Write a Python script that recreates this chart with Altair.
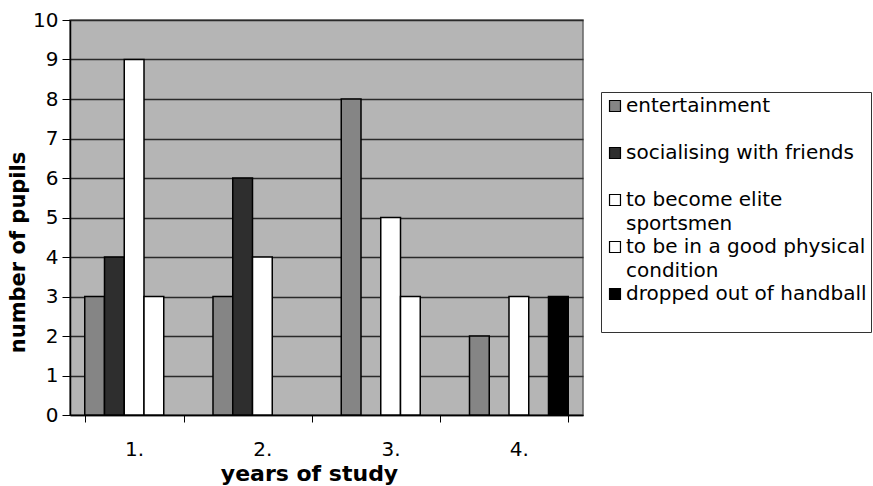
import altair as alt
import pandas as pd

# Survey of handball pupils: reasons for playing, by year of study
years = ["1.", "2.", "3.", "4."]
series = [
    "entertainment",
    "socialising with friends",
    "to become elite sportsmen",
    "to be in a good physical condition",
    "dropped out of handball",
]
entertainment = [3, 3, 8, 2]
socialising = [4, 6, 0, 0]
elite = [9, 4, 5, 3]
physical = [3, 0, 3, 0]
dropped = [0, 0, 0, 3]

colors = ["#858585", "#2e2e2e", "#ffffff", "#ffffff", "#000000"]

rows = []
for name, vals in zip(series, [entertainment, socialising, elite, physical, dropped]):
    for yr, v in zip(years, vals):
        rows.append({"year": yr, "reason": name, "pupils": v})
df = pd.DataFrame(rows)

FONT = "DejaVu Sans"

# long legend entries are wrapped onto two lines; the last one keeps a blank
# second line so the box leaves room below it
wrap_expr = (
    "datum.label == 'to become elite sportsmen' ? ['to become elite', 'sportsmen'] : "
    "datum.label == 'to be in a good physical condition' ? ['to be in a good physical', 'condition'] : "
    "datum.label == 'dropped out of handball' ? ['dropped out of handball', ' '] : "
    "datum.label"
)

bars = alt.Chart(df).transform_filter("datum.pupils > 0").mark_bar(
    stroke="#000000", strokeWidth=1.5
).encode(
    x=alt.X(
        "year:N",
        sort=years,
        scale=alt.Scale(domain=years, paddingInner=0.23, paddingOuter=0.115),
        axis=alt.Axis(
            title="years of study",
            labelAngle=0,
            labelFont=FONT,
            labelFontSize=20,
            labelColor="#000000",
            labelPadding=17,
            tickBand="extent",
            tickSize=7,
            tickColor="#000000",
            domainColor="#000000",
            domainWidth=1.5,
            titleFont=FONT,
            titleFontSize=22,
            titleFontWeight="bold",
            titleColor="#000000",
            titleX=239,
            titleY=65,
            titleBaseline="alphabetic",
        ),
    ),
    xOffset=alt.XOffset("reason:N", sort=series, scale=alt.Scale(domain=series)),
    y=alt.Y(
        "pupils:Q",
        scale=alt.Scale(domain=[0, 10], nice=False),
        axis=alt.Axis(
            title="number of pupils",
            values=list(range(0, 11)),
            labelFont=FONT,
            labelFontSize=20,
            labelColor="#000000",
            labelPadding=4,
            tickSize=8,
            tickColor="#000000",
            domainColor="#000000",
            domainWidth=1.5,
            grid=True,
            gridColor="#2a2a2a",
            gridWidth=1.3,
            titleFont=FONT,
            titleFontSize=21,
            titleFontWeight="bold",
            titleColor="#000000",
            titleX=-42,
            titleY=232,
        ),
    ),
    fill=alt.Fill(
        "reason:N",
        sort=series,
        scale=alt.Scale(domain=series, range=colors),
        legend=alt.Legend(
            title=None,
            orient="none",
            legendX=531,
            legendY=72,
            symbolType="square",
            symbolSize=120,
            symbolStrokeColor="#000000",
            symbolStrokeWidth=1.2,
            labelFont=FONT,
            labelFontSize=20,
            labelColor="#000000",
            labelOffset=1,
            labelLimit=400,
            labelExpr=wrap_expr,
            gridAlign="all",
            rowPadding=3,
            padding=4,
            strokeColor="#333333",
            fillColor="#ffffff",
        ),
    ),
)

chart = (
    bars.properties(width=513, height=395)
    .properties(
        autosize=alt.AutoSizeParams(type="none"),
        padding={"left": 70, "top": 20, "right": 290, "bottom": 71},
        background="#ffffff",
    )
    .configure(
        view=alt.ViewConfig(fill="#b5b5b5", stroke="#666666", strokeWidth=1.5),
        style={"guide-label": {"lineHeight": 24}},
    )
)

chart.save("out.html", embed_options={"renderer": "svg", "actions": False})
